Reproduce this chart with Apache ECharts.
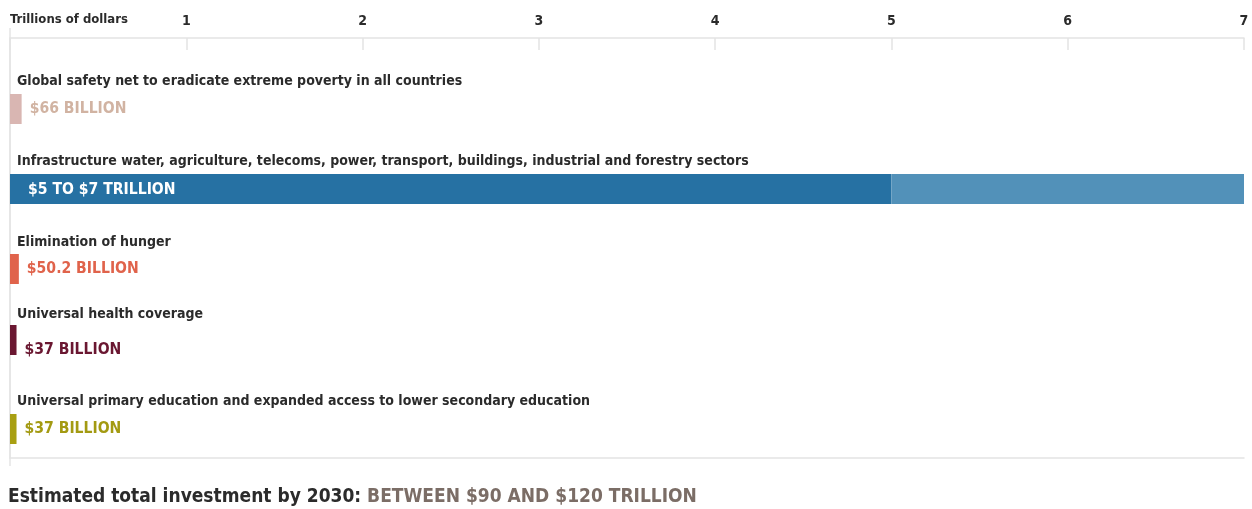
<!DOCTYPE html>
<html><head><meta charset="utf-8">
<script src="https://cdn.jsdelivr.net/npm/echarts/dist/echarts.min.js"></script>
<style>html,body{margin:0;padding:0;background:#fff}#c{width:1252px;height:509px}</style>
</head><body><div id="c"></div>
<script>
// ---- data ----
const categories = [
  'Global safety net to eradicate extreme poverty in all countries',
  'Infrastructure water, agriculture, telecoms, power, transport, buildings, industrial and forestry sectors',
  'Elimination of hunger',
  'Universal health coverage',
  'Universal primary education and expanded access to lower secondary education'
];
const lowValues = [0.066, 5, 0.0502, 0.037, 0.037];      // trillions of dollars
const highValues = [0.066, 7, 0.0502, 0.037, 0.037];
const valueLabels = ['$66 BILLION', '$5 TO $7 TRILLION', '$50.2 BILLION', '$37 BILLION', '$37 BILLION'];
const axisTicks = [0, 1, 2, 3, 4, 5, 6, 7];
const axisTitle = 'Trillions of dollars';
const footerLead = 'Estimated total investment by 2030: ';
const footerValue = 'BETWEEN $90 AND $120 TRILLION';

// ---- styles / layout ----
const FONT = "'Liberation Sans Narrow', 'DejaVu Sans Condensed', 'Roboto', sans-serif";
const barColors = ['#d9b6b2', '#2671a3', '#e0634b', '#6a1731', '#a89f12'];
const rangeColors = [null, '#5291b9', null, null, null];
const labelColors = ['#d1b3a2', '#ffffff', '#e0634b', '#6a1731', '#a39a12'];
const rowTops = [94, 174, 254, 325, 414];
const titleGaps = [6, 6, 5, 4, 6];
const labelOffsets = [[0, 0], [0, 1], [0, 0], [0, 10], [0, 0]];
const gridLineColor = '#e4e4e4';

const chart = echarts.init(document.getElementById('c'), null, {renderer: 'canvas'});

const grids = [{left: 10, right: 8, top: 38, bottom: 51}];
const xAxes = [
  {gridIndex: 0, type: 'value', position: 'top', min: axisTicks[0], max: axisTicks[axisTicks.length - 1], interval: 1,
    axisLine: {show: true, onZero: false, lineStyle: {color: gridLineColor, width: 1.5}},
    axisTick: {show: true, inside: true, length: 12, lineStyle: {color: gridLineColor, width: 1.5}},
    splitLine: {show: false},
    axisLabel: {show: true, margin: 10, fontFamily: FONT, fontWeight: 'bold', fontSize: 14, color: '#2b2b2b',
      showMaxLabel: true, formatter: v => (v === 0 ? '' : String(v))}},
  {gridIndex: 0, type: 'value', position: 'bottom', min: axisTicks[0], max: axisTicks[axisTicks.length - 1],
    axisLine: {show: true, onZero: false, lineStyle: {color: gridLineColor, width: 1.5}},
    axisTick: {show: false}, axisLabel: {show: false}, splitLine: {show: false}}
];
const yAxes = [
  {gridIndex: 0, type: 'value', min: 0, max: 1,
    axisLine: {show: true, onZero: false, lineStyle: {color: gridLineColor, width: 1.5}},
    axisTick: {show: false}, axisLabel: {show: false}, splitLine: {show: false}}
];
const series = [];

categories.forEach((cat, i) => {
  const g = grids.length;
  grids.push({left: 10, right: 8, top: rowTops[i], height: 30});
  const xi = xAxes.length, yi = yAxes.length;
  xAxes.push({gridIndex: g, type: 'value', min: axisTicks[0], max: axisTicks[axisTicks.length - 1], show: false});
  yAxes.push({gridIndex: g, type: 'category', data: [cat],
    axisLine: {show: false}, axisTick: {show: false}, axisLabel: {show: false}, splitLine: {show: false},
    name: cat, nameLocation: 'end', nameGap: titleGaps[i],
    nameTextStyle: {align: 'left', verticalAlign: 'bottom', padding: [0, 0, 0, 7],
      fontFamily: FONT, fontWeight: 'bold', fontSize: 14, color: '#2b2b2b'}});
  const inside = highValues[i] > 1;
  series.push({type: 'bar', xAxisIndex: xi, yAxisIndex: yi, stack: 's' + i, barWidth: 30,
    data: [lowValues[i]], itemStyle: {color: barColors[i]}, silent: true,
    label: {show: true, position: inside ? 'insideLeft' : 'right', distance: inside ? 18 : 8,
      offset: labelOffsets[i], formatter: valueLabels[i],
      fontFamily: FONT, fontWeight: 'bold', fontSize: 15.6, color: labelColors[i]}});
  if (highValues[i] > lowValues[i]) {
    series.push({type: 'bar', xAxisIndex: xi, yAxisIndex: yi, stack: 's' + i, barWidth: 30,
      data: [+(highValues[i] - lowValues[i]).toFixed(4)], itemStyle: {color: rangeColors[i]}, silent: true});
  }
});

chart.setOption({
  animation: false,
  backgroundColor: '#ffffff',
  title: [
    {text: axisTitle, left: 10, top: 13, padding: 0,
      textStyle: {fontFamily: FONT, fontWeight: 'bold', fontSize: 13, color: '#2b2b2b'}},
    {text: '{a|' + footerLead + '}{b|' + footerValue + '}', left: 8, top: 488, padding: 0,
      textStyle: {rich: {
        a: {fontFamily: FONT, fontWeight: 'bold', fontSize: 19, color: '#2b2b2b'},
        b: {fontFamily: FONT, fontWeight: 'bold', fontSize: 19, color: '#7b6d66'}}}}
  ],
  grid: grids, xAxis: xAxes, yAxis: yAxes, series: series
});

// extend the left rule slightly above and below the plot frame, as in the original
const x0 = chart.convertToPixel({xAxisIndex: 0}, 0);
chart.setOption({graphic: [{type: 'line', silent: true,
  shape: {x1: x0, y1: 28, x2: x0, y2: 466}, style: {stroke: gridLineColor, lineWidth: 1.5}}]});
</script></body></html>
